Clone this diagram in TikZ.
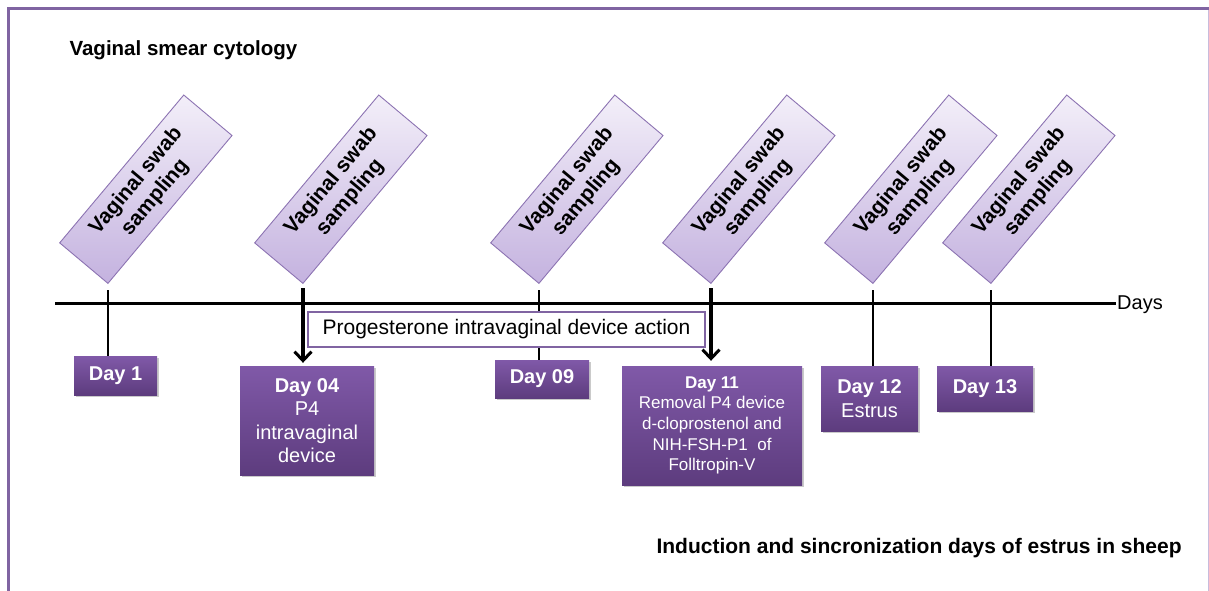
\documentclass[tikz,border=0pt]{standalone}
\usepackage{fontspec}
\setmainfont{Liberation Sans}
\usetikzlibrary{arrows.meta,shadows}
\definecolor{framec}{RGB}{128,100,162}
\definecolor{framelight}{RGB}{200,188,220}
\definecolor{swabtop}{RGB}{243,239,249}
\definecolor{swabbot}{RGB}{196,178,223}
\definecolor{swabdraw}{RGB}{140,115,178}
\definecolor{daytop}{RGB}{128,89,168}
\definecolor{daybot}{RGB}{93,60,126}
\begin{document}
\begin{tikzpicture}[x=1pt,y=-1pt,
  swab/.style={draw=swabdraw, line width=0.9pt, top color=swabtop, bottom color=swabbot,
    rotate=50, minimum width=193pt, minimum height=63pt, inner sep=0pt, align=center,
    font=\fontsize{21}{25}\selectfont\bfseries, anchor=south west},
  daybox/.style={fill=daybot, top color=daytop, bottom color=daybot, text=white, inner sep=0pt,
    align=center, drop shadow={shadow xshift=2pt, shadow yshift=-2pt, opacity=0.35, fill=black!60}},
  tick/.style={draw=black, line width=1.3pt},
  bigarrow/.style={draw=black, line width=3.5pt, -{Straight Barb[length=9pt,width=17pt,line width=3pt]}},
  timeline/.style={draw=black, line width=3pt}
]
\useasboundingbox (0,0) rectangle (1209,591);
% frame
\draw[framelight, line width=1pt] (1208,8) -- (1208,591);
\draw[framec, line width=3pt] (8,600) -- (8,8.5) -- (1209,8.5);

% titles
\node[anchor=west, font=\fontsize{20.5}{24}\selectfont\bfseries] (title) at (66,50) {Vaginal smear cytology};
\node[anchor=west, font=\fontsize{21}{24}\selectfont\bfseries] (foot) at (653,548) {Induction and sincronization days of estrus in sheep};

% timeline
\coordinate (tl0) at (55,303);
\node[anchor=base west, inner sep=1pt, font=\fontsize{20}{24}\selectfont] (days) at (1116,309.5) {Days};
\draw[timeline] (tl0) -- (tl0 -| days.west);

% swab boxes
\node[swab] (s1) at (108,284) {Vaginal swab\\sampling};
\node[swab] (s2) at (303,284) {Vaginal swab\\sampling};
\node[swab] (s3) at (539,284) {Vaginal swab\\sampling};
\node[swab] (s4) at (711,284) {Vaginal swab\\sampling};
\node[swab] (s5) at (873,284) {Vaginal swab\\sampling};
\node[swab] (s6) at (991,284) {Vaginal swab\\sampling};

% progesterone box
\node[draw=framec, line width=2.5pt, fill=white, minimum width=397pt, minimum height=35pt, inner sep=0pt,
  font=\fontsize{21}{24}\selectfont] (prog) at (506.5,329.5) {Progesterone intravaginal device action};

% day boxes
\node[daybox, minimum width=83pt, minimum height=39pt, font=\fontsize{20}{23}\selectfont\bfseries] (d1) at (115.5,375.5) {Day 1};
\node[daybox, minimum width=134pt, minimum height=109pt, font=\fontsize{20}{23.5}\selectfont] (d2) at (307,420.5) {\textbf{Day 04}\\P4\\intravaginal\\device};
\node[daybox, minimum width=94pt, minimum height=38pt, font=\fontsize{20}{23}\selectfont\bfseries] (d3) at (542,379) {Day 09};
\node[daybox, minimum width=180pt, minimum height=119pt, font=\fontsize{17}{20.7}\selectfont] (d4) at (712,425.5) {\textbf{Day 11}\\Removal P4 device\\d-cloprostenol and\\NIH-FSH-P1\ \ of\\Folltropin-V};
\node[daybox, minimum width=97pt, minimum height=65pt, font=\fontsize{20}{24}\selectfont] (d5) at (869.5,398.5) {\textbf{Day 12}\\Estrus};
\node[daybox, minimum width=96pt, minimum height=45pt, font=\fontsize{20}{23}\selectfont\bfseries] (d6) at (985,388.5) {Day 13};

% ticks
\draw[tick] ([yshift=-6pt]s1.south west) -- (s1.south west |- d1.north);
\draw[tick] ([yshift=-6pt]s5.south west) -- (s5.south west |- d5.north);
\draw[tick] ([yshift=-6pt]s6.south west) -- (s6.south west |- d6.north);
\draw[tick] ([yshift=-6pt]s3.south west) -- (prog.north -| s3.south west);
\draw[tick] (prog.south -| s3.south west) -- (s3.south west |- d3.north);

% arrows
\draw[bigarrow] ([yshift=-4pt]s2.south west) -- ([yshift=3pt]s2.south west |- d2.north);
\draw[bigarrow] ([yshift=-4pt]s4.south west) -- ([yshift=5pt]s4.south west |- d4.north);
\end{tikzpicture}
\end{document}
